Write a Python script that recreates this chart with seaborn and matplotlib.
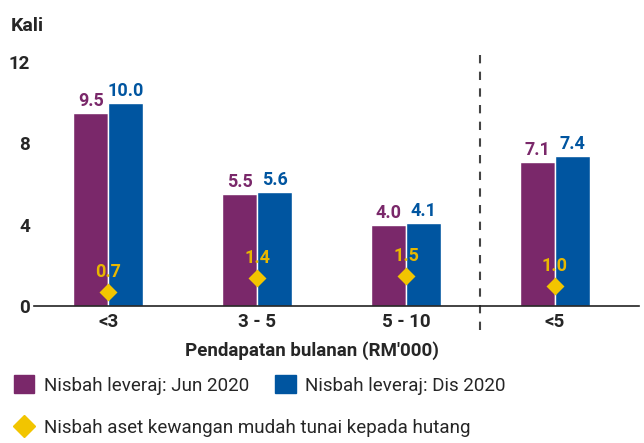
import matplotlib
matplotlib.use("Agg")
import matplotlib.pyplot as plt
import seaborn as sns
import pandas as pd
from matplotlib.patches import Patch
from matplotlib.lines import Line2D

categories = ["<3", "3 - 5", "5 - 10", "<5"]
leverage_jun = [9.5, 5.5, 4.0, 7.1]
leverage_dis = [10.0, 5.6, 4.1, 7.4]
liquid_ratio = [0.7, 1.4, 1.5, 1.0]
series_names = ["Nisbah leveraj: Jun 2020", "Nisbah leveraj: Dis 2020"]
diamond_name = "Nisbah aset kewangan mudah tunai kepada hutang"
yticks = [0, 4, 8, 12]

PURPLE = "#7A286A"
BLUE = "#0055A0"
YELLOW = "#F2C500"
YELLOW_TXT = "#E8B700"
FS = 13.5

sns.set_style("white")
plt.rcParams["font.family"] = ["Roboto", "DejaVu Sans"]

df = pd.DataFrame({
    "cat": categories * 2,
    "val": leverage_jun + leverage_dis,
    "series": [series_names[0]] * 4 + [series_names[1]] * 4,
})
dfd = pd.DataFrame({"cat": categories, "val": liquid_ratio})

fig = plt.figure(figsize=(6.44, 4.43), dpi=100)
ax = fig.add_axes([34 / 644, 1 - 306 / 443, 605 / 644, 244 / 443])

sns.barplot(data=df, x="cat", y="val", hue="series", order=categories,
            hue_order=series_names, palette=[PURPLE, BLUE], width=0.47,
            saturation=1, ax=ax, legend=False, errorbar=None)
sns.pointplot(data=dfd, x="cat", y="val", order=categories, color=YELLOW,
              marker="D", linestyle="none", markersize=7.2, ax=ax, errorbar=None)

# bar value labels
for cont, col in zip(ax.containers[:2], [PURPLE, BLUE]):
    ax.bar_label(cont, labels=[f"{v:.1f}" for v in cont.datavalues], color=col,
                 fontsize=13, fontweight="bold", padding=2)

# diamond labels
for i, v in enumerate(liquid_ratio):
    ax.annotate(f"{v:.1f}", (i, v), xytext=(0, 7.5), textcoords="offset points",
                ha="center", va="bottom", color=YELLOW_TXT, fontsize=13,
                fontweight="bold", zorder=5)

ax.set_ylim(0, 12)
ax.set_xlim(-0.5, 3.565)
ax.set_yticks(yticks)
ax.set_yticklabels([str(t) for t in yticks], fontsize=FS, fontweight="bold")
ax.tick_params(axis="y", length=0, pad=3)
ax.tick_params(axis="x", which="major", length=0, pad=5, labelsize=FS)
for lbl in ax.get_xticklabels():
    lbl.set_fontweight("bold")
ax.set_xticks([-0.5, 0.5, 1.5, 2.5, 3.5], minor=True)
ax.tick_params(axis="x", which="minor", length=5, width=1, color="#333333")
ax.set_xlabel("")
ax.set_ylabel("")
for s in ["top", "right", "left"]:
    ax.spines[s].set_visible(False)
ax.spines["bottom"].set_color("#222222")
ax.spines["bottom"].set_linewidth(1.2)

ax.axvline(2.5, ymin=-0.1, ymax=1.03, clip_on=False, color="#444444",
           linestyle=(0, (4, 4)), linewidth=1.5)

fig.text(11 / 644, 1 - 26 / 443, "Kali", fontsize=14, fontweight="bold",
         va="center", ha="left")
fig.text(312 / 644, 1 - 351 / 443, "Pendapatan bulanan (RM'000)", fontsize=FS,
         fontweight="bold", ha="center", va="center")

h1 = [Patch(color=PURPLE), Patch(color=BLUE)]
fig.legend(h1, series_names, loc="center left",
           bbox_to_anchor=(6 / 644, 1 - 385 / 443), ncol=2, frameon=False,
           fontsize=FS, handlelength=1.1, handleheight=1.1,
           handletextpad=0.5, columnspacing=1.4, borderaxespad=0)
h2 = [Line2D([], [], marker="D", color=YELLOW, linestyle="none", markersize=11)]
fig.legend(h2, [diamond_name], loc="center left",
           bbox_to_anchor=(6 / 644, 1 - 428 / 443), frameon=False,
           fontsize=FS, handlelength=1.1, handletextpad=0.5, borderaxespad=0)

fig.savefig("out.png", dpi=100)
